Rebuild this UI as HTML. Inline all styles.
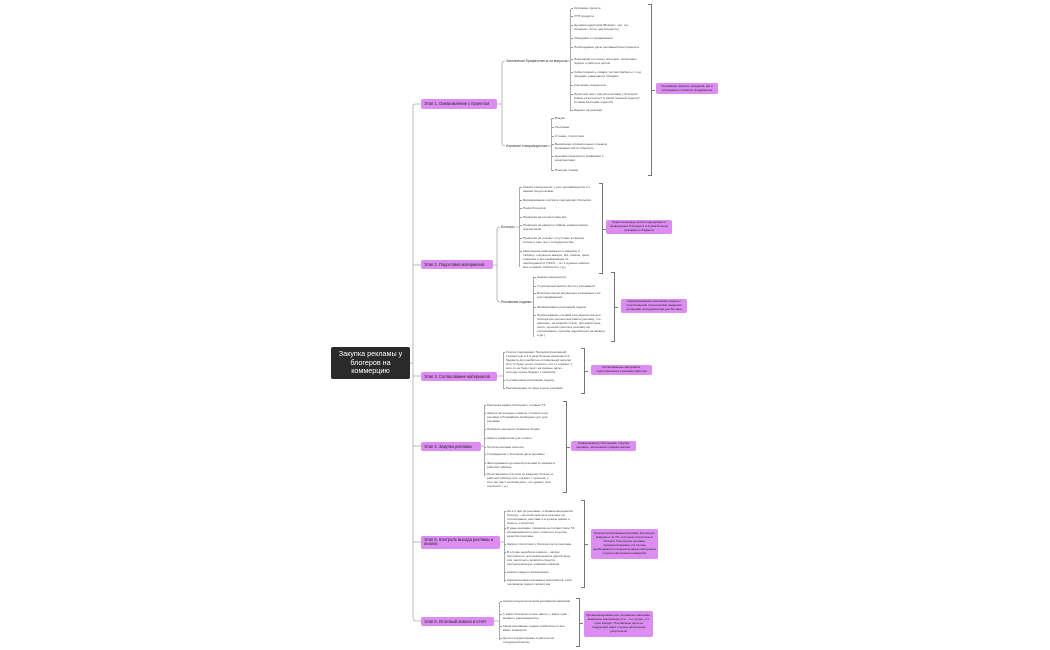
<!DOCTYPE html>
<html><head><meta charset="utf-8"><style>
html,body{margin:0;padding:0;background:#fff;}
body{width:1050px;height:650px;position:relative;overflow:hidden;font-family:"Liberation Sans","Noto Sans CJK SC",sans-serif;color:#333;}
.a{position:absolute;}
.root{position:absolute;left:331px;top:347px;width:79px;height:32px;background:#2a2a2a;border-radius:2px;color:#fff;font-size:7.2px;line-height:8.6px;text-align:center;display:flex;align-items:center;justify-content:center;}
.st{position:absolute;left:421px;background:#dd8cf2;border-radius:2px;font-size:4.1px;line-height:5px;color:#222;padding:2px 3px;box-sizing:border-box;white-space:nowrap;overflow:hidden;}
.sb{position:absolute;font-size:3.4px;line-height:4.2px;color:#333;white-space:nowrap;}
.l{position:absolute;font-size:3.1px;line-height:4.1px;color:#444;width:68px;}
.l::before{content:"";position:absolute;left:-3px;top:2px;width:2px;border-top:0.6px solid #999;}
.v{position:absolute;border-left:0.7px solid #aaa;}
.br{position:absolute;width:3px;border:0.8px solid #777;border-left:none;}
.br::after{content:"";position:absolute;right:-4px;top:50%;width:3px;border-top:0.8px solid #777;}
.sm{position:absolute;background:#dd8cf2;border-radius:2px;font-size:3px;line-height:3.9px;color:#222;text-align:center;display:flex;align-items:center;justify-content:center;box-sizing:border-box;padding:1px 2px;overflow:hidden;}
</style></head><body>
<svg class="a" style="left:0;top:0" width="1050" height="650">
<g fill="none" stroke="#aaa" stroke-width="0.8">
<line x1="410" y1="363" x2="413" y2="363"/>
<path d="M421 104 H416 Q413 104 413 107 V617 Q413 621 416 621 H421"/>
<line x1="413" y1="265" x2="421" y2="265"/>
<line x1="413" y1="376" x2="421" y2="376"/>
<line x1="413" y1="446" x2="421" y2="446"/>
<line x1="413" y1="542" x2="421" y2="542"/>
<path d="M497 104 H502 M505 61 Q502 61 502 64 V143 Q502 146 505 146"/>
<path d="M493 265 H497 M500 227 Q497 227 497 230 V299 Q497 302 500 302"/>
<path d="M497 376 H503"/>
<path d="M481 446 H484"/>
<path d="M500 542 H504"/>
<path d="M494 621 H499"/>
<path d="M567 61 H570"/><path d="M548 146 H551"/>
<path d="M516 227 H519"/><path d="M528 302 H533"/>
</g></svg>

<div class="root">Закупка рекламы у<br>блогеров на<br>коммерцию</div>

<div class="st" style="top:99px;width:76px;height:10px">Этап 1. Ознакомление с проектом</div>
<div class="st" style="top:260px;width:72px;height:9px">Этап 2. Подготовка материалов</div>
<div class="st" style="top:372px;width:76px;height:9px">Этап 3. Согласование материалов</div>
<div class="st" style="top:442px;width:60px;height:9px">Этап 4. Закупка рекламы</div>
<div class="st" style="top:536px;width:79px;height:13px;white-space:normal;line-height:4.8px;padding:1.5px 3px">Этап 5. Контроль выхода рекламы и анализ</div>
<div class="st" style="top:617px;width:73px;height:9px">Этап 6. Итоговый анализ и отчёт</div>

<!-- Stage 1 -->
<div class="sb" style="left:506px;top:59px">Заполнение брифа/ответы на вопросы</div>
<div class="sb" style="left:506px;top:144px">Изучение товара/карточки</div>
<div class="v" style="left:570px;top:9px;height:102px"></div>
<div class="l" style="left:574px;top:6px">Описание проекта</div>
<div class="l" style="left:574px;top:14px">УТП продукта</div>
<div class="l" style="left:574px;top:23px">Целевая аудитория (Возраст, пол, гео, интересы, боли, деятельность)</div>
<div class="l" style="left:574px;top:36px">Ожидания от продвижения</div>
<div class="l" style="left:574px;top:45px">Необходимые даты рекламы/сроки процесса</div>
<div class="l" style="left:574px;top:57px">Пожелания по поиску блогеров, написанию подачи и работе в целом</div>
<div class="l" style="left:574px;top:70px">Себестоимость товара, чистая прибыль с 1 ед продажи, имеющиеся продажи</div>
<div class="l" style="left:574px;top:83px">Ключевые конкуренты</div>
<div class="l" style="left:574px;top:92px">Прошлый опыт закупки рекламы у блогеров (Какие результаты? С какой подачей ходили? К каким блогерам ходили?)</div>
<div class="l" style="left:574px;top:108px">Бюджет на рекламу</div>
<div class="v" style="left:551px;top:118px;height:53px"></div>
<div class="l" style="left:555px;top:116px">Визуал</div>
<div class="l" style="left:555px;top:125px">Описание</div>
<div class="l" style="left:555px;top:134px">Отзывы, статистика</div>
<div class="l" style="left:555px;top:142px">Выявление отрицательных отзывов, возможностей их обыграть</div>
<div class="l" style="left:555px;top:154px">Ценовая категория в сравнении с конкурентами</div>
<div class="l" style="left:555px;top:168px">Позиции товара</div>
<div class="br" style="left:648px;top:4px;height:170px"></div>
<div class="sm" style="left:656px;top:83px;width:62px;height:11px">Понимание проекта, ожиданий, ЦА и обсуждение стратегии продвижения</div>

<!-- Stage 2 -->
<div class="sb" style="left:501px;top:225px">Блогеры</div>
<div class="sb" style="left:501px;top:300px">Рекламная подача</div>
<div class="v" style="left:519px;top:187px;height:80px"></div>
<div class="l" style="left:523px;top:185px">Анализ конкурентов: у кого рекламируются и с какими результатами</div>
<div class="l" style="left:523px;top:198px">Формирование портрета подходящих блогеров</div>
<div class="l" style="left:523px;top:206px">Поиск блогеров</div>
<div class="l" style="left:523px;top:215px">Проверка на соответствие ЦА</div>
<div class="l" style="left:523px;top:223px">Проверка на накрутку лайков, комментариев, подписчиков</div>
<div class="l" style="left:523px;top:236px">Проверка на отзывы, отсутствие в чёрном списке и наш опыт сотрудничества</div>
<div class="l" style="left:523px;top:249px">Заполнение информации по каждому в таблицу: ссылка на аккаунт, ЦА, охваты, цена, тематика и доп.информация по необходимости (ТАСС – тег 1 нужные охваты/вых отзывов / Рейтинги и т.д.)</div>
<div class="br" style="left:599px;top:183px;height:89px"></div>
<div class="sm" style="left:606px;top:220px;width:66px;height:14px">Подготовленные списки подходящих и проверенных блогеров в 3-4 раза больше рекламного бюджета</div>
<div class="v" style="left:533px;top:277px;height:60px"></div>
<div class="l" style="left:537px;top:275px">Анализ конкурентов</div>
<div class="l" style="left:537px;top:284px">Углубленный анализ блога и рекламной</div>
<div class="l" style="left:537px;top:291px">Выписка списка актуальных рекламных тем для продвижения</div>
<div class="l" style="left:537px;top:305px">Формирование рекламной подачи</div>
<div class="l" style="left:537px;top:313px">Прописывание условий сотрудничества для блогера (во сколько выставить рекламу, что написать, на каждой сторис, при какой цене снять, просьба прислать рекламу на согласование, просьба подписаться на аккаунт и др.)</div>
<div class="br" style="left:611px;top:272px;height:68px"></div>
<div class="sm" style="left:621px;top:299px;width:66px;height:14px">Сформированная рекламная подача с прописанными техническими заданием условиями сотрудничества для блогера</div>

<!-- Stage 3 -->
<div class="v" style="left:503px;top:352px;height:37px"></div>
<div class="l" style="left:506px;top:350px">Список подходящих блогеров (рекламной стоимостью в 3-4 раза больше имеющегося бюджета для наиболее оптимальной закупки (кто-то будет долго отвечать, кто-то откажет, у кого-то не будет мест на нужные даты – поэтому нужен бюджет с запасом)</div>
<div class="l" style="left:506px;top:378px">Составленная рекламная подача</div>
<div class="l" style="left:506px;top:386px">Рекомендации по цене в день рекламы</div>
<div class="br" style="left:581px;top:348px;height:44px"></div>
<div class="sm" style="left:591px;top:365px;width:61px;height:10px">Согласованные материалы, подготовленные к рекламе карточки</div>

<!-- Stage 4 -->
<div class="v" style="left:484px;top:406px;height:70px"></div>
<div class="l" style="left:487px;top:403px">Рассылка заявок блогерам с готовым ТЗ</div>
<div class="l" style="left:487px;top:411px">Запрос актуальных охватов, стоимости на рекламу и ближайших свободных дат для рекламы</div>
<div class="l" style="left:487px;top:427px">Принятие решения: берём/не берём</div>
<div class="l" style="left:487px;top:436px">Запрос реквизитов для оплаты</div>
<div class="l" style="left:487px;top:445px">Оплата рекламы агентом</div>
<div class="l" style="left:487px;top:452px">Утверждение с блогером даты рекламы</div>
<div class="l" style="left:487px;top:461px">Фиксирование купленной рекламы в графике в рабочей таблице</div>
<div class="l" style="left:487px;top:472px">Проставление статусов по каждому блогеру в рабочей таблице (кто отказал + причина, у кого нет мест на ближ.даты, кто думает, кого оплатили т. д.)</div>
<div class="br" style="left:563px;top:401px;height:90px"></div>
<div class="sm" style="left:571px;top:441px;width:65px;height:10px">Коммуникация с блогерами, покупка рекламы, заполнение графика реклам.</div>

<!-- Stage 5 -->
<div class="v" style="left:504px;top:512px;height:70px"></div>
<div class="l" style="left:507px;top:509px">За 1-2 дня до рекламы: отправка материалов блогеру + просьба прислать рекламу на согласование, выставить в нужное время и скинуть статистику</div>
<div class="l" style="left:507px;top:526px">В день рекламы: проверка на соответствие ТЗ, своевременность всех отметок и в целом качество рекламы</div>
<div class="l" style="left:507px;top:542px">Запрос статистики у блогера после рекламы</div>
<div class="l" style="left:507px;top:550px">В случае недобора охватов – запрос бесплатного доп.размещения в другой день или частичного возврата средств пропорционально упавшим охватам</div>
<div class="l" style="left:507px;top:570px">Анализ каждого размещения</div>
<div class="l" style="left:507px;top:578px">Корректировка рекламных материалов, если рекламную подачу писали мы</div>
<div class="br" style="left:581px;top:500px;height:86px"></div>
<div class="sm" style="left:591px;top:529px;width:67px;height:30px">Проконтролированная реклама, всё вышло вовремя и по ТЗ, получена статистика от блогера. Результаты рекламы проанализированы и в случае необходимости скорректированы материалы с целью увеличения конверсий.</div>

<!-- Stage 6 -->
<div class="v" style="left:499px;top:602px;height:38px"></div>
<div class="l" style="left:503px;top:599px">Анализ результатов всей рекламной кампании</div>
<div class="l" style="left:503px;top:612px">У каких блогеров лучше зашло, у каких хуже - выявить закономерность</div>
<div class="l" style="left:503px;top:624px">Какая рекламная подача сработала лучше, какие конверсии</div>
<div class="l" style="left:503px;top:636px">Цели и корректировка стратегии на следующий месяц</div>
<div class="br" style="left:576px;top:598px;height:47px"></div>
<div class="sm" style="left:584px;top:611px;width:69px;height:26px">Проанализированы все рекламные кампании, выявлены закономерности – что лучше, что хуже заходит. Поставлены цели на следующий закуп с целью увеличения результатов</div>
</body></html>
